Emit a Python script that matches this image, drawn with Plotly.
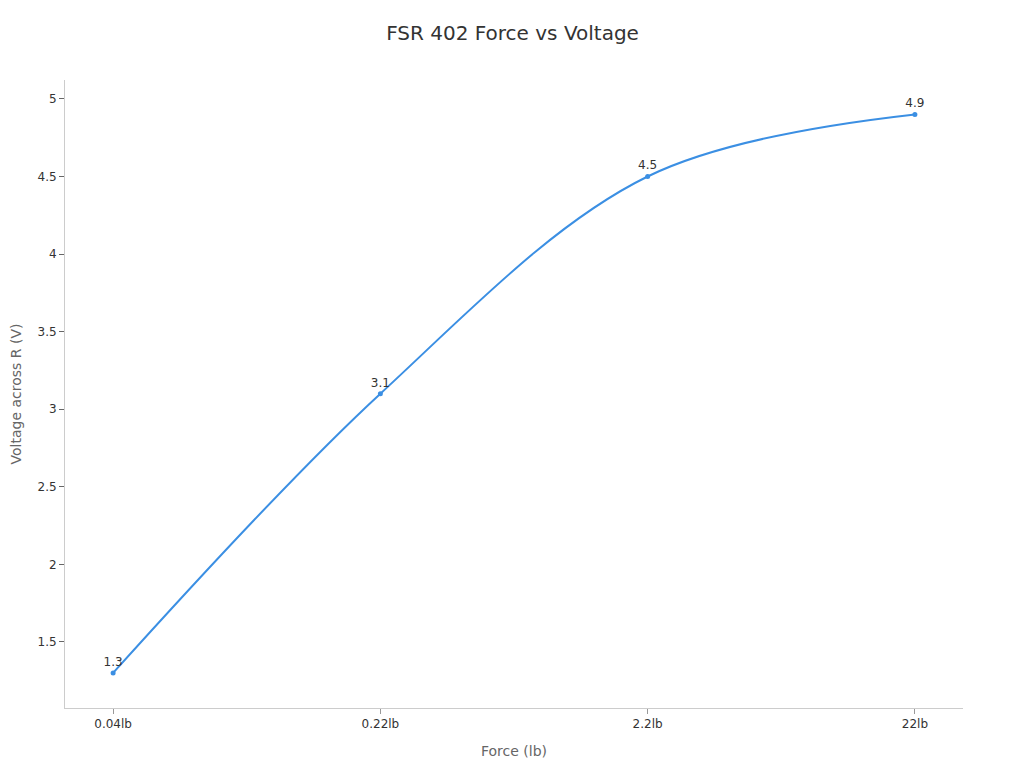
import plotly.graph_objects as go

# Datos
force_labels = ["0.04lb", "0.22lb", "2.2lb", "22lb"]
voltage = [1.3, 3.1, 4.5, 4.9]
voltage_text = ["1.3", "3.1", "4.5", "4.9"]

fig = go.Figure(go.Scatter(
    x=force_labels,
    y=voltage,
    mode="lines+markers+text",
    text=voltage_text,
    textposition="top center",
    textfont=dict(size=12, color="#333333"),
    line=dict(color="#3b8fe3", width=2, shape="spline", smoothing=1.0),
    marker=dict(color="#3b8fe3", size=5),
    cliponaxis=False,
    hoverinfo="x+y",
))

# la pagina deja 8px de margen en el body, se compensa aqui
fig.update_layout(
    title=dict(text="FSR 402 Force vs Voltage", x=0.4966, xanchor="center",
               y=0.967, yanchor="middle",
               font=dict(size=20, color="#333333")),
    font=dict(family="DejaVu Sans", color="#333333"),
    width=1016,
    height=760,
    margin=dict(l=57, r=61, t=72, b=60),
    paper_bgcolor="white",
    plot_bgcolor="white",
    showlegend=False,
    xaxis=dict(
        type="category",
        range=[-0.18, 3.18],
        automargin=False,
        title=dict(text="Force (lb)", font=dict(size=14, color="#666666"), standoff=15),
        showgrid=False,
        zeroline=False,
        showline=True,
        linecolor="#cccccc",
        linewidth=1,
        ticks="outside",
        ticklen=5,
        tickcolor="#999999",
        tickfont=dict(size=12, color="#333333"),
    ),
    yaxis=dict(
        range=[1.074, 5.122],
        automargin=False,
        tickvals=[1.5, 2, 2.5, 3, 3.5, 4, 4.5, 5],
        ticktext=["1.5", "2", "2.5", "3", "3.5", "4", "4.5", "5"],
        title=dict(text="Voltage across R (V)", font=dict(size=14, color="#666666"), standoff=19),
        showgrid=False,
        zeroline=False,
        showline=True,
        linecolor="#cccccc",
        linewidth=1,
        ticks="outside",
        ticklen=5,
        tickcolor="#666666",
        tickfont=dict(size=12, color="#333333"),
    ),
)

fig.write_html("out.html")
